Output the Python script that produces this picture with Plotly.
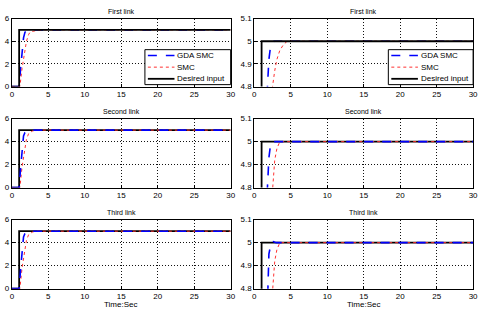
import plotly.graph_objects as go

# ---------------- data ----------------
t_desired = [0, 1, 1, 30]
y_desired = [0, 0, 5, 5]

# First link
t_gda1 = [0, 1.0, 1.2, 1.4, 1.6, 1.8, 2.0, 2.2, 2.4, 2.7, 30]
y_gda1 = [0, 0, 1.6, 3.2, 4.3, 4.80, 4.92, 4.97, 4.99, 5, 5]
t_smc1 = [0, 1.1, 1.4, 1.7, 2.0, 2.3, 2.5, 2.8, 3.1, 3.5, 4.0, 4.5, 30]
y_smc1 = [0, 0, 1.6, 3.0, 4.0, 4.6, 4.8, 4.87, 4.92, 4.96, 4.985, 5, 5]

# Second link
t_gda2 = [0, 1.0, 1.2, 1.4, 1.6, 1.8, 2.0, 2.2, 2.5, 30]
y_gda2 = [0, 0, 1.7, 3.4, 4.5, 4.80, 4.93, 4.98, 5, 5]
t_smc2 = [0, 1.1, 1.4, 1.7, 2.0, 2.3, 2.5, 2.8, 3.1, 3.5, 30]
y_smc2 = [0, 0, 1.8, 3.2, 4.2, 4.7, 4.8, 4.92, 4.97, 5, 5]

# Third link
t_gda3 = [0, 1.0, 1.2, 1.4, 1.6, 1.8, 2.0, 2.3, 2.6, 3.0, 30]
y_gda3 = [0, 0, 1.7, 3.4, 4.5, 4.80, 4.95, 5.0, 5.005, 5, 5]
t_smc3 = [0, 1.1, 1.4, 1.7, 2.0, 2.3, 2.5, 2.8, 3.1, 3.5, 30]
y_smc3 = [0, 0, 1.8, 3.2, 4.2, 4.7, 4.8, 4.92, 4.97, 5, 5]

titles = ["First link", "Second link", "Third link"]
left_yticks = [0, 2, 4, 6]
right_yticks = [4.8, 4.9, 5, 5.1]
right_yticklabels = ["4.8", "4.9", "5", "5.1"]
xticks = [0, 5, 10, 15, 20, 25, 30]
legend_names = ["GDA SMC", "SMC", "Desired input"]

series = [(t_gda1, y_gda1, t_smc1, y_smc1),
          (t_gda2, y_gda2, t_smc2, y_smc2),
          (t_gda3, y_gda3, t_smc3, y_smc3)]

W, H = 485, 316
xdom_left = [10 / W, 232 / W]
xdom_right = [256 / W, 478 / W]
rows_px = [(15, 85), (118, 189), (222, 293)]

fig = go.Figure()
FONT = "Liberation Sans, Arial, sans-serif"

axis_common = dict(showgrid=True, gridcolor="#111111", griddash="1px,2px", gridwidth=1,
                   showline=True, linecolor="black", linewidth=1, mirror=True,
                   ticks="inside", ticklen=3, tickcolor="black", zeroline=False,
                   ticklabeloverflow="allow",
                   tickfont=dict(size=8, color="black", family=FONT))

GDA_LINE = dict(color="#0000ff", dash="dash", width=1.6)
SMC_LINE = dict(color="#ff3030", dash="dot", width=1)
DES_LINE = dict(color="black", width=1.8)

ann = []
shapes = []
idx = 0
for r in range(3):
    top, bot = rows_px[r]
    ydom = [1 - bot / H, 1 - top / H]
    tg, yg, ts, ys = series[r]
    for c in range(2):
        idx += 1
        xa = "x" if idx == 1 else f"x{idx}"
        ya = "y" if idx == 1 else f"y{idx}"
        xkey = "xaxis" if idx == 1 else f"xaxis{idx}"
        ykey = "yaxis" if idx == 1 else f"yaxis{idx}"
        xdom = xdom_left if c == 0 else xdom_right
        gda = go.Scatter(x=tg, y=yg, mode="lines", name=legend_names[0], line=GDA_LINE,
                         xaxis=xa, yaxis=ya, showlegend=False)
        smc = go.Scatter(x=ts, y=ys, mode="lines", name=legend_names[1], line=SMC_LINE,
                         xaxis=xa, yaxis=ya, showlegend=False)
        des = go.Scatter(x=t_desired, y=y_desired, mode="lines", name=legend_names[2], line=DES_LINE,
                         xaxis=xa, yaxis=ya, showlegend=False)
        if r == 0:
            fig.add_traces([gda, smc, des])
        else:
            fig.add_traces([des, smc, gda])
        fig.layout[xkey] = dict(domain=xdom, anchor=ya, range=[0, 30], tickvals=xticks, **axis_common)
        if c == 0:
            fig.layout[ykey] = dict(domain=ydom, anchor=xa, range=[0, 6], tickvals=left_yticks, **axis_common)
        else:
            fig.layout[ykey] = dict(domain=ydom, anchor=xa, range=[4.8, 5.1], tickvals=right_yticks,
                                    ticktext=right_yticklabels, **axis_common)
        cx = (xdom[0] + xdom[1]) / 2
        ann.append(dict(text=titles[r], x=cx, y=ydom[1], xref="paper", yref="paper",
                        xanchor="center", yanchor="bottom", yshift=2, showarrow=False,
                        font=dict(size=7, color="black", family=FONT)))
        if r == 2:
            ann.append(dict(text="Time:Sec", x=cx, y=0, xref="paper", yref="paper",
                            xanchor="center", yanchor="bottom", yshift=0, showarrow=False,
                            font=dict(size=8, color="black", family=FONT)))

# ---- legend boxes (first row, both panels) ----
def px_x(v):
    return v / W

def px_y(v):
    return 1 - v / H

legend_boxes = [(145, 232), (392, 478)]
legend_top, legend_bot = 47, 83
entry_y = [53, 65, 77]
line_styles = [GDA_LINE, SMC_LINE, DES_LINE]
for (bx0, bx1) in legend_boxes:
    shapes.append(dict(type="rect", xref="paper", yref="paper",
                       x0=px_x(bx0), x1=px_x(bx1), y0=px_y(legend_bot), y1=px_y(legend_top),
                       fillcolor="white", line=dict(color="black", width=1), layer="above"))
    for k in range(3):
        shapes.append(dict(type="line", xref="paper", yref="paper",
                           x0=px_x(bx0 + 3), x1=px_x(bx0 + 30), y0=px_y(entry_y[k]), y1=px_y(entry_y[k]),
                           line=line_styles[k], layer="above"))
        ann.append(dict(text=legend_names[k], x=px_x(bx0 + 31), y=px_y(entry_y[k]),
                        xref="paper", yref="paper", xanchor="left", yanchor="middle",
                        showarrow=False, font=dict(size=8, color="black", family=FONT)))

fig.update_layout(
    width=W, height=H, margin=dict(l=0, r=0, t=0, b=0),
    paper_bgcolor="white", plot_bgcolor="white",
    annotations=ann, shapes=shapes, showlegend=False,
)

fig.write_html("out.html", config={"displayModeBar": False},
               post_script="document.body.style.margin='0';document.body.style.overflow='hidden';")
